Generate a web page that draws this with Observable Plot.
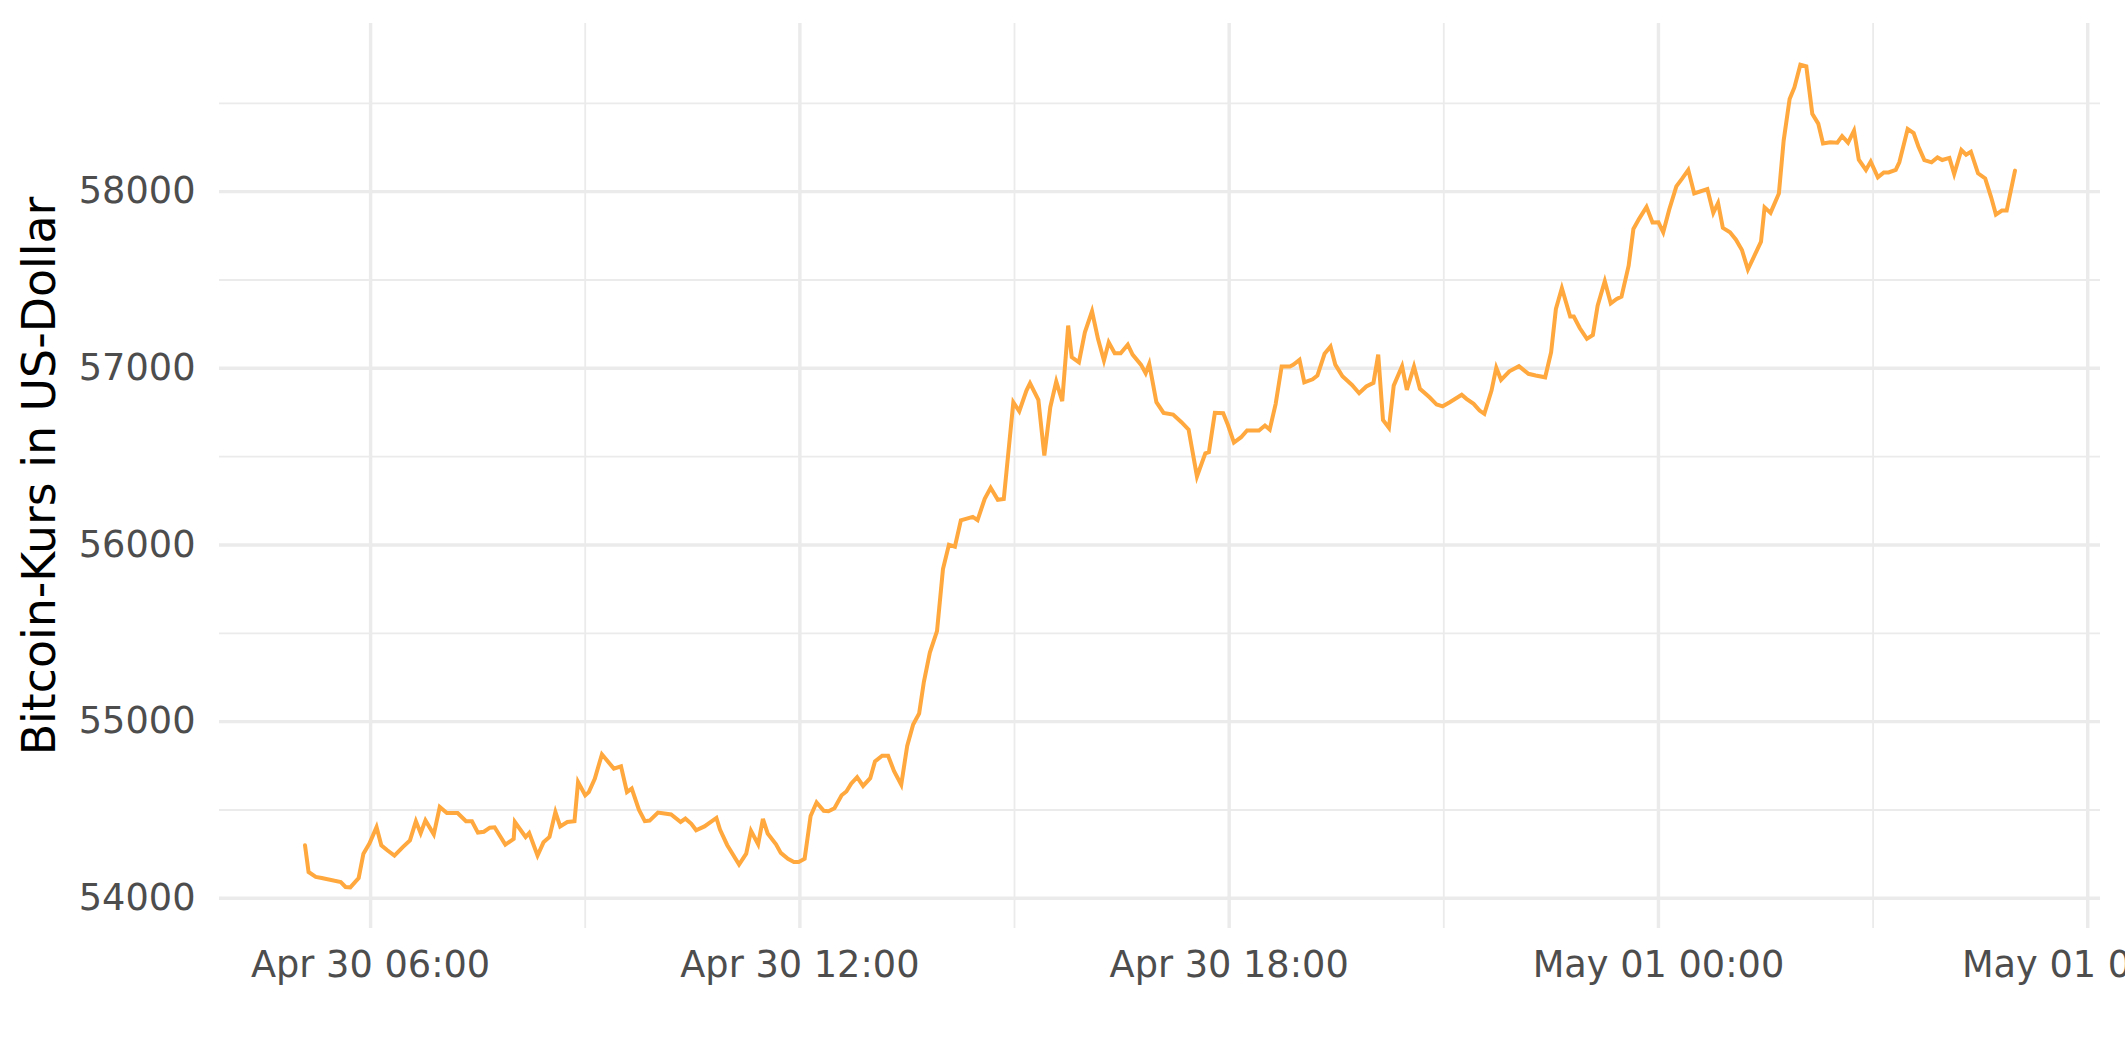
<!DOCTYPE html>
<html>
<head>
<meta charset="utf-8">
<script src="https://cdn.jsdelivr.net/npm/d3@7"></script>
<script src="https://cdn.jsdelivr.net/npm/@observablehq/plot@0.6"></script>
<style>
  html, body { margin: 0; padding: 0; background: #ffffff; overflow: hidden; }
  #chart svg { display: block; }
</style>
</head>
<body>
<div id="chart"></div>
<script>
// Minutes after 2021-04-30 00:00 UTC
const minutes = [
  305,308,314,319,335,339,343,350,354,359,
  365,369,374,380,387,393,398,402,406,413,
  418,424,433,440,445,450,455,460,464,473,
  480,481,490,493,500,505,510,515,519,525,
  531,534,540,543,548,554,564,570,575,579,
  585,590,594,601,612,620,624,629,633,640,
  650,653,659,669,675,679,685,689,693,700,
  704,710,715,719,724,729,734,740,744,749,
  755,759,763,768,773,779,783,789,794,799,
  805,810,815,820,824,829,835,840,845,850,
  855,865,869,875,880,886,891,899,904,910,
  913,920,925,930,935,940,945,948,954,959,
  965,970,975,979,984,989,995,999,1006,1010,
  1013,1019,1025,1033,1040,1046,1053,1060,1063,1068,
  1075,1079,1084,1090,1095,1105,1110,1114,1119,1124,
  1131,1134,1139,1143,1150,1154,1160,1165,1169,1175,
  1183,1189,1195,1201,1205,1209,1214,1218,1225,1229,
  1235,1240,1248,1254,1259,1265,1275,1279,1285,1290,
  1294,1300,1304,1308,1315,1323,1331,1337,1345,1350,
  1354,1359,1366,1369,1374,1380,1385,1389,1395,1400,
  1405,1409,1415,1419,1424,1430,1435,1440,1444,1449,
  1455,1460,1465,1470,1481,1486,1490,1494,1500,1505,
  1510,1515,1526,1529,1534,1541,1545,1550,1554,1559,
  1564,1569,1574,1578,1584,1590,1594,1599,1604,1608,
  1614,1618,1624,1629,1633,1639,1642,1649,1654,1658,
  1663,1669,1674,1678,1684,1688,1694,1698,1702,1708,
  1714,1719,1723,1728,1732,1739
];

// Bitcoin price in US-Dollar
const prices = [
  54300,54149,54121,54115,54092,54064,54062,54115,54253,54310,
  54403,54300,54272,54242,54290,54328,54436,54369,54441,54362,
  54517,54483,54483,54436,54436,54372,54377,54400,54402,54304,
  54336,54432,54347,54369,54242,54317,54347,54488,54407,54432,
  54436,54658,54583,54601,54677,54815,54734,54747,54601,54621,
  54502,54437,54440,54485,54475,54432,54451,54422,54385,54407,
  54455,54389,54302,54191,54253,54382,54306,54449,54367,54306,
  54257,54224,54206,54206,54224,54466,54543,54495,54493,54510,
  54583,54605,54649,54686,54636,54680,54775,54807,54807,54720,
  54643,54863,54984,55046,55226,55391,55512,55864,56001,55990,
  56140,56159,56141,56261,56324,56256,56261,56808,56757,56874,
  56915,56822,56506,56780,56925,56814,57242,57063,57034,57204,
  57323,57167,57044,57147,57085,57085,57134,57078,57021,56972,
  57025,56808,56748,56738,56695,56653,56388,56519,56525,56748,
  56746,56679,56580,56610,56648,56648,56676,56653,56799,57010,
  57010,57021,57048,56921,56938,56959,57082,57123,57021,56955,
  56906,56859,56897,56918,57078,56708,56663,56902,57012,56878,
  57010,56884,56836,56795,56785,56808,56850,56827,56799,56761,
  56742,56874,57003,56935,56983,57012,56969,56959,56949,57091,
  57336,57454,57293,57293,57228,57167,57189,57355,57493,57368,
  57393,57406,57581,57789,57849,57913,57825,57826,57770,57898,
  58030,58075,58123,57990,58015,57880,57936,57795,57770,57728,
  57670,57559,57717,57911,57880,57990,58289,58525,58590,58719,
  58709,58441,58385,58273,58280,58277,58314,58277,58345,58181,
  58123,58170,58081,58109,58109,58123,58166,58355,58332,58256,
  58179,58166,58194,58179,58191,58100,58236,58209,58226,58104,
  58075,57968,57870,57893,57893,58119
];

const yMajor = [54000, 55000, 56000, 57000, 58000];
const yMinor = [54500, 55500, 56500, 57500, 58500];
const xMajorLabels = ["2021-04-30T06:00Z", "2021-04-30T12:00Z", "2021-04-30T18:00Z", "2021-05-01T00:00Z", "2021-05-01T06:00Z"];
const xMinorLabels = ["2021-04-30T09:00Z", "2021-04-30T15:00Z", "2021-04-30T21:00Z", "2021-05-01T03:00Z"];
const yTitle = "Bitcoin-Kurs in US-Dollar";

const base = Date.UTC(2021, 3, 30, 0, 0);
const data = minutes.map((m, i) => ({ time: new Date(base + m * 60000), price: prices[i] }));
const xMajor = xMajorLabels.map(s => new Date(s));
const xMinor = xMinorLabels.map(s => new Date(s));

// ggplot-style 5% expansion
const tExt = d3.extent(data, d => +d.time);
const tPad = 0.05 * (tExt[1] - tExt[0]);
const vExt = d3.extent(prices);
const vPad = 0.05 * (vExt[1] - vExt[0]);

const chart = Plot.plot({
  width: 2125,
  height: 1062,
  marginLeft: 219,
  marginRight: 25,
  marginTop: 23,
  marginBottom: 134,
  style: { fontFamily: "DejaVu Sans", fontSize: "36.7px", color: "#4D4D4D", background: "#ffffff" },
  x: {
    type: "utc",
    domain: [new Date(tExt[0] - tPad), new Date(tExt[1] + tPad)],
    ticks: xMajor,
    tickFormat: d3.utcFormat("%b %d %H:%M"),
    tickSize: 0,
    tickPadding: 22,
    label: null
  },
  y: {
    domain: [vExt[0] - vPad, vExt[1] + vPad],
    ticks: yMajor,
    tickFormat: d3.format("d"),
    tickSize: 0,
    tickPadding: 24,
    label: null
  },
  marks: [
    Plot.ruleY(yMinor, { stroke: "#EBEBEB", strokeWidth: 1.8 }),
    Plot.ruleX(xMinor, { stroke: "#EBEBEB", strokeWidth: 1.8 }),
    Plot.ruleY(yMajor, { stroke: "#EBEBEB", strokeWidth: 3.4 }),
    Plot.ruleX(xMajor, { stroke: "#EBEBEB", strokeWidth: 3.4 }),
    Plot.line(data, { x: "time", y: "price", stroke: "#FFA83D", strokeWidth: 4, strokeLinejoin: "miter", strokeMiterlimit: 4 }),
    Plot.text([yTitle], {
      frameAnchor: "left",
      textAnchor: "middle",
      lineAnchor: "middle",
      dx: -179,
      rotate: -90,
      fontSize: 45.8,
      fill: "#000000",
      text: d => d
    })
  ]
});

document.getElementById("chart").appendChild(chart);
</script>
</body>
</html>
